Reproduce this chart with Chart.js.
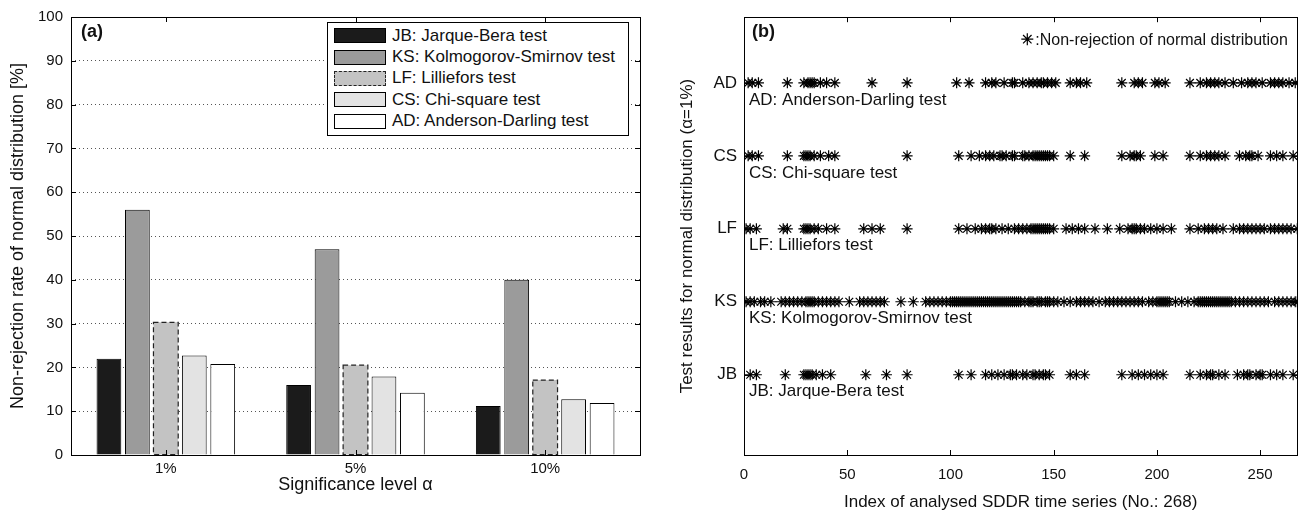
<!DOCTYPE html>
<html lang="en">
<head>
  <meta charset="utf-8">
  <title>Normality tests</title>
  <script src="https://cdn.jsdelivr.net/npm/chart.js"></script>
  <style>
    html, body { margin: 0; padding: 0; background: #fff; }
    body { width: 1304px; height: 513px; position: relative; overflow: hidden; font-family: "Liberation Sans", Arial, sans-serif; color: #111; }
    .panel { position: absolute; top: 0; height: 513px; }
    #barWrap { left: 0; width: 655px; }
    #starWrap { left: 655px; width: 649px; }
    #legendA { position: absolute; left: 327px; top: 22px; width: 300px; border: 1px solid #000; background: #fff; padding: 2px 0 3px 0; }
    #legendA .item { height: 21.4px; display: flex; align-items: center; font-size: 17px; }
    #legendA .sw { width: 52px; height: 15px; margin: 0 6px 0 6px; border: 1px solid #000; box-sizing: border-box; flex: none; }
  </style>
</head>
<body>
  <div class="panel" id="barWrap"><canvas id="barChart" width="655" height="513"></canvas></div>
  <div class="panel" id="starWrap"><canvas id="starChart" width="649" height="513"></canvas></div>
  <div id="legendA"></div>

  <script>
    // ---- panel (a): non-rejection rate [%] ----
    const levels = ['1%', '5%', '10%'];
    const testNames = ['JB: Jarque-Bera test', 'KS: Kolmogorov-Smirnov test', 'LF: Lilliefors test', 'CS: Chi-square test', 'AD: Anderson-Darling test'];
    const jbRate = [22.0, 16.0, 11.2];
    const ksRate = [56.0, 47.0, 40.0];
    const lfRate = [30.3, 20.5, 17.1];
    const csRate = [22.7, 17.9, 12.7];
    const adRate = [20.8, 14.2, 11.9];
    const yTicksA = [0, 10, 20, 30, 40, 50, 60, 70, 80, 90, 100];

    // ---- panel (b): index of series not rejected (alpha = 1%) ----
    const rowCodes = ['JB', 'KS', 'LF', 'CS', 'AD'];
    const jbIdx = [3, 6, 20, 29, 30, 31, 32, 33, 35, 38, 42, 59, 69, 79, 104, 110, 117, 120, 123, 126, 129, 130, 132, 135, 137, 140, 141, 143, 145, 146, 148, 158, 161, 165, 183, 188, 191, 194, 197, 200, 203, 216, 221, 224, 226, 227, 230, 233, 239, 242, 244, 245, 248, 250, 251, 255, 258, 261, 266];
    const ksIdx = [1, 3, 5, 8, 10, 13, 18, 20, 22, 24, 26, 28, 30, 31, 32, 33, 34, 36, 38, 40, 42, 44, 46, 51, 56, 58, 60, 62, 64, 66, 68, 76, 82, 88, 90, 92, 94, 96, 98, 100, 101, 102, 103, 104, 105, 106, 107, 108, 109, 110, 111, 112, 113, 114, 115, 116, 117, 118, 119, 120, 121, 122, 123, 124, 125, 126, 127, 128, 129, 130, 131, 132, 133, 134, 136, 138, 139, 140, 142, 143, 144, 146, 147, 148, 150, 152, 155, 158, 161, 163, 165, 167, 169, 172, 175, 177, 179, 181, 183, 185, 187, 189, 191, 193, 196, 198, 200, 201, 202, 203, 204, 205, 206, 209, 212, 215, 218, 220, 221, 222, 223, 224, 225, 226, 227, 228, 229, 230, 231, 232, 233, 234, 235, 236, 238, 240, 242, 244, 246, 248, 250, 252, 254, 257, 259, 261, 263, 265, 267, 268];
    const lfIdx = [1, 3, 6, 19, 21, 29, 30, 31, 32, 34, 36, 40, 44, 58, 62, 66, 79, 104, 108, 112, 115, 117, 119, 120, 122, 125, 128, 131, 133, 135, 137, 139, 140, 141, 142, 143, 144, 145, 146, 147, 148, 150, 156, 159, 162, 165, 170, 176, 182, 186, 188, 189, 190, 192, 194, 197, 200, 203, 207, 216, 220, 223, 225, 227, 229, 232, 237, 240, 242, 244, 246, 248, 250, 252, 255, 257, 259, 261, 263, 265, 268];
    const csIdx = [2, 4, 7, 21, 29, 30, 31, 32, 34, 37, 41, 44, 79, 104, 110, 114, 117, 119, 121, 124, 125, 127, 130, 131, 135, 136, 138, 140, 141, 142, 143, 144, 145, 146, 147, 148, 150, 158, 165, 183, 187, 189, 190, 192, 199, 203, 216, 221, 224, 226, 228, 230, 233, 240, 243, 245, 246, 249, 255, 258, 261, 266];
    const adIdx = [2, 4, 7, 21, 29, 31, 32, 33, 34, 37, 40, 44, 62, 79, 103, 109, 117, 120, 122, 126, 130, 131, 135, 138, 140, 142, 144, 145, 147, 149, 151, 158, 161, 163, 166, 183, 189, 191, 193, 199, 201, 204, 216, 221, 224, 226, 228, 230, 233, 237, 241, 244, 246, 248, 251, 255, 257, 259, 261, 264, 267];
    const xTicksB = [0, 50, 100, 150, 200, 250];

    const FONT = '"Liberation Sans", Arial, sans-serif';
    const INK = '#111';
    Chart.defaults.font.family = FONT;
    Chart.defaults.color = INK;

    // bar colours, LF gets a dashed outline drawn by a plugin
    const barFills = ['#1b1b1b', '#9b9b9b', '#c3c3c3', '#e3e3e3', '#ffffff'];

    // box around the plot area + inward tick marks (MATLAB look)
    const framePlugin = {
      id: 'frame',
      afterDraw(chart) {
        const { ctx, chartArea: a } = chart;
        const xs = chart.scales.x, ys = chart.scales.y;
        ctx.save();
        ctx.strokeStyle = '#000';
        ctx.lineWidth = 1;
        ctx.strokeRect(Math.round(a.left) + 0.5, Math.round(a.top) + 0.5, Math.round(a.right - a.left), Math.round(a.bottom - a.top));
        ctx.beginPath();
        xs.ticks.forEach((t, i) => {
          const x = Math.round(xs.getPixelForTick(i)) + 0.5;
          ctx.moveTo(x, a.bottom); ctx.lineTo(x, a.bottom - 5);
          ctx.moveTo(x, a.top); ctx.lineTo(x, a.top + 5);
        });
        ys.ticks.forEach((t, i) => {
          const y = Math.round(ys.getPixelForTick(i)) + 0.5;
          ctx.moveTo(a.left, y); ctx.lineTo(a.left + 5, y);
          ctx.moveTo(a.right, y); ctx.lineTo(a.right - 5, y);
        });
        ctx.stroke();
        ctx.restore();
      }
    };

    const dashedBar = {
      id: 'dashedBar',
      afterDatasetsDraw(chart) {
        const ctx = chart.ctx;
        ctx.save();
        ctx.setLineDash([5, 3]);
        ctx.lineWidth = 1.2;
        ctx.strokeStyle = '#222';
        chart.getDatasetMeta(2).data.forEach(bar => {
          const p = bar.getProps(['x', 'y', 'base', 'width'], true);
          ctx.strokeRect(p.x - p.width / 2, p.y, p.width, p.base - p.y);
        });
        ctx.restore();
      }
    };

    const panelTag = (text, x, y) => ({
      id: 'tag' + text,
      afterDraw(chart) {
        const ctx = chart.ctx;
        ctx.save();
        ctx.font = 'bold 18px ' + FONT;
        ctx.fillStyle = INK;
        ctx.textBaseline = 'middle';
        ctx.fillText(text, chart.chartArea.left + x, chart.chartArea.top + y);
        ctx.restore();
      }
    });

    const rates = [jbRate, ksRate, lfRate, csRate, adRate];
    new Chart(document.getElementById('barChart'), {
      type: 'bar',
      data: {
        labels: levels,
        datasets: rates.map((r, i) => ({
          label: testNames[i],
          data: r,
          backgroundColor: barFills[i],
          borderColor: '#000',
          borderWidth: i === 2 ? 0 : 1,
          categoryPercentage: 0.75,
          barPercentage: 0.87
        }))
      },
      options: {
        responsive: false,
        animation: false,
        devicePixelRatio: 1,
        layout: { padding: { left: 0, top: 16, right: 15, bottom: 0 } },
        plugins: { legend: { display: false }, tooltip: { enabled: false } },
        scales: {
          x: {
            grid: { display: false, drawTicks: false },
            border: { display: false },
            ticks: { padding: 5, font: { size: 15 } },
            title: { display: true, text: 'Significance level α', font: { size: 18 }, padding: { top: 17, bottom: 17 } },
            afterFit: s => { s.height = 58; }
          },
          y: {
            min: 0, max: 100,
            afterBuildTicks: s => { s.ticks = yTicksA.map(v => ({ value: v })); },
            grid: { color: '#555', lineWidth: 1, drawTicks: false },
            border: { display: false, dash: [1, 3] },
            ticks: { padding: 8, font: { size: 15 } },
            title: { display: true, text: 'Non-rejection rate of normal distribution [%]', font: { size: 18 }, padding: { top: 7, bottom: 7 } },
            afterFit: s => { s.width = 71; }
          }
        }
      },
      plugins: [dashedBar, framePlugin, panelTag('(a)', 10, 15)]
    });

    // HTML legend for panel (a)
    const leg = document.getElementById('legendA');
    testNames.forEach((n, i) => {
      const row = document.createElement('div');
      row.className = 'item';
      const sw = document.createElement('span');
      sw.className = 'sw';
      sw.style.background = barFills[i];
      if (i === 2) sw.style.border = '1.5px dashed #222';
      row.appendChild(sw);
      row.appendChild(document.createTextNode(n));
      leg.appendChild(row);
    });

    // ---- panel (b) ----
    const rowIdx = [jbIdx, ksIdx, lfIdx, csIdx, adIdx];
    const starNotes = {
      id: 'starNotes',
      afterDraw(chart) {
        const { ctx, chartArea: a } = chart;
        const ys = chart.scales.y;
        ctx.save();
        ctx.fillStyle = INK;
        ctx.font = '17px ' + FONT;
        ctx.textBaseline = 'middle';
        testNames.forEach((n, i) => {
          ctx.fillText(n, a.left + 5, ys.getPixelForValue(i + 1) + 17);
        });
        // key in the upper right corner
        ctx.font = '16px ' + FONT;
        const kx = a.right - 270, ky = a.top + 22;
        ctx.strokeStyle = '#000';
        ctx.lineWidth = 1.2;
        Chart.helpers.drawPoint(ctx, { pointStyle: 'star', radius: 6, borderWidth: 1.2 }, kx, ky);
        ctx.fillText(':Non-rejection of normal distribution', kx + 8, ky + 1);
        ctx.restore();
      }
    };

    new Chart(document.getElementById('starChart'), {
      type: 'scatter',
      data: {
        datasets: rowIdx.map((arr, i) => ({
          label: rowCodes[i],
          data: arr.map(v => ({ x: v, y: i + 1 })),
          pointStyle: 'star',
          pointRadius: 5.5,
          borderWidth: 1.2,
          borderColor: '#000',
          backgroundColor: '#000'
        }))
      },
      options: {
        responsive: false,
        animation: false,
        devicePixelRatio: 1,
        layout: { padding: { left: 0, top: 16, right: 3, bottom: 0 } },
        plugins: { legend: { display: false }, tooltip: { enabled: false } },
        scales: {
          x: {
            type: 'linear', min: 0, max: 268,
            afterBuildTicks: s => { s.ticks = xTicksB.map(v => ({ value: v })); },
            grid: { display: false, drawTicks: false },
            border: { display: false },
            ticks: { padding: 11, font: { size: 15 } },
            title: { display: true, text: 'Index of analysed SDDR time series (No.: 268)', font: { size: 17 }, padding: { top: 0, bottom: 0 } },
            afterFit: s => { s.height = 58; }
          },
          y: {
            type: 'linear', min: -0.1, max: 5.9,
            afterBuildTicks: s => { s.ticks = rowCodes.map((c, i) => ({ value: i + 1 })); },
            grid: { display: false, drawTicks: false },
            border: { display: false },
            ticks: { padding: 7, font: { size: 17 }, callback: v => rowCodes[v - 1] },
            title: { display: true, text: 'Test results for normal distribution (α=1%)', font: { size: 17 }, padding: { top: 22, bottom: 22 } },
            afterFit: s => { s.width = 89; }
          }
        }
      },
      plugins: [framePlugin, starNotes, panelTag('(b)', 8, 15)]
    });
  </script>
</body>
</html>
